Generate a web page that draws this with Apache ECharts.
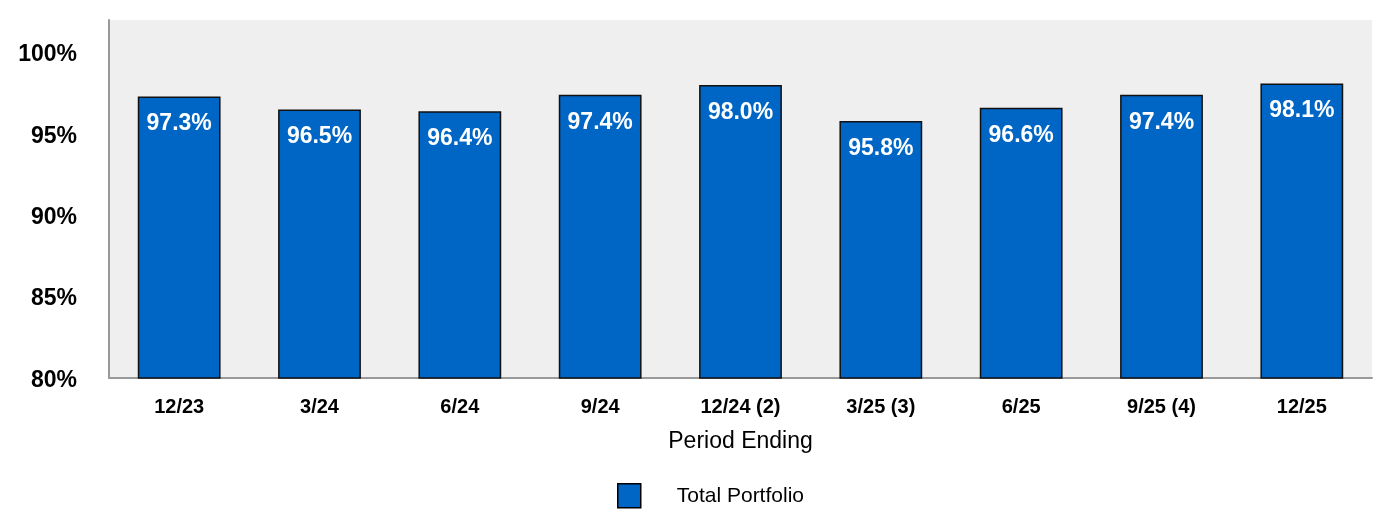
<!DOCTYPE html>
<html><head><meta charset="utf-8">
<script src="https://cdn.jsdelivr.net/npm/echarts@6/dist/echarts.min.js"></script>
<style>html,body{margin:0;padding:0;background:#fff}#c{width:1392px;height:528px}</style>
</head><body><div id="c"></div>
<script>
const categories = ['12/23','3/24','6/24','9/24','12/24 (2)','3/25 (3)','6/25','9/25 (4)','12/25'];
const values = [97.3,96.5,96.4,97.4,98.0,95.8,96.6,97.4,98.1];
const seriesName = 'Total Portfolio';
const chart = echarts.init(document.getElementById('c'));
chart.setOption({
  animation:false,
  textStyle:{fontFamily:'Liberation Sans, Arial, sans-serif'},
  grid:{left:109,right:20,top:20,bottom:150,show:true,backgroundColor:'#efefef',borderWidth:0},
  legend:{top:478,left:612,itemWidth:23,itemHeight:24,itemGap:10,
    textStyle:{fontSize:21,color:'#000',padding:[0,0,0,31]},
    data:[{name:seriesName,icon:'rect',itemStyle:{borderColor:'#000',borderWidth:1.5}}]},
  xAxis:{type:'category',data:categories,name:'Period Ending',nameLocation:'middle',nameGap:52,
    nameTextStyle:{fontSize:23,color:'#000'},
    axisLine:{lineStyle:{color:'#999',width:2}},axisTick:{show:false},
    axisLabel:{fontSize:20,fontWeight:'bold',color:'#000',margin:19}},
  yAxis:{type:'value',min:80,max:102,interval:5,
    axisLine:{show:true,lineStyle:{color:'#999',width:2}},axisTick:{show:false},splitLine:{show:false},
    axisLabel:{fontSize:23,fontWeight:'bold',color:'#000',margin:32,showMaxLabel:false,
      formatter:v=>v%5===0?'{a|'+v+'%}':'',
      rich:{a:{fontSize:23,fontWeight:'bold',color:'#000',padding:[5,0,0,0]}}}},
  series:[{name:seriesName,type:'bar',data:values,barWidth:'59%',
    itemStyle:{color:'#0066c6',borderColor:'#111',borderWidth:1.5},
    label:{show:true,position:'insideTop',distance:16,color:'#fff',fontSize:23,fontWeight:'bold',
      formatter:p=>p.value.toFixed(1)+'%'}}]
});
</script></body></html>
